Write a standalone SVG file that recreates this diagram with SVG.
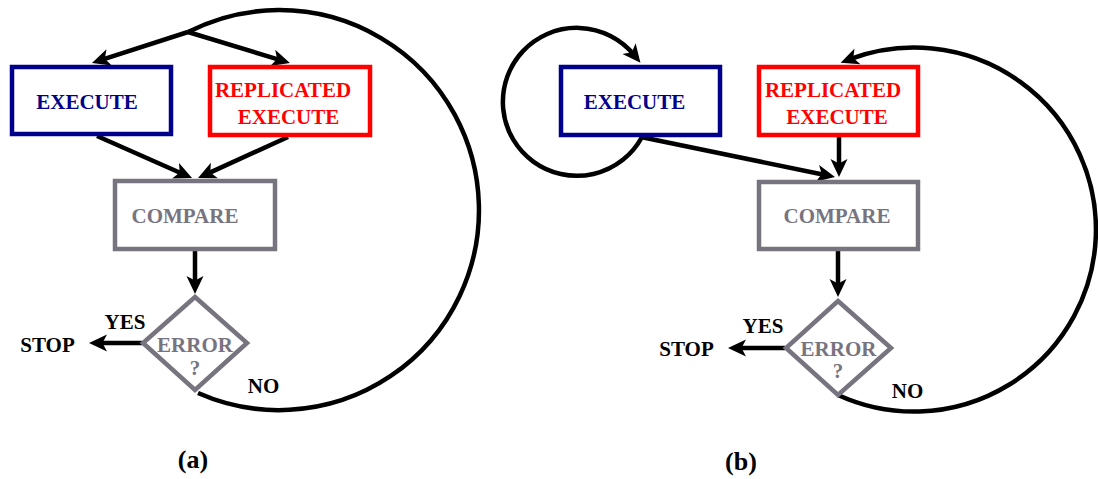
<svg xmlns="http://www.w3.org/2000/svg" width="1098" height="479" viewBox="0 0 1098 479">
  <style>
    .lbl { font-family: "Liberation Serif", "Times New Roman", serif; font-weight: bold; font-size: 21px; text-anchor: middle; }
    .cap { font-size: 26px; }
    .blue { fill: #00008B; }
    .red { fill: #FF0000; }
    .gray { fill: #78747F; }
    .blk { fill: #000000; }
    .box { fill: #FFFFFF; stroke-width: 4.5; }
    .b-blue { stroke: #00008B; }
    .b-red { stroke: #FF0000; }
    .b-gray { stroke: #78747F; }
    .edge { fill: none; stroke: #000000; stroke-width: 4.5; }
    .arrow { marker-end: url(#head); }
  </style>
  <defs>
    <!-- notched arrowhead; its tip sits 10px past the path end -->
    <marker id="head" viewBox="-9 -10 21 20" refX="0" refY="0" markerWidth="21" markerHeight="20" markerUnits="userSpaceOnUse" orient="auto">
      <path d="M10,0 L-8,-8.5 L-3.5,0 L-8,8.5 Z" fill="#000000"/>
    </marker>
  </defs>
  <rect width="1098" height="479" fill="#FFFFFF"/>

  <!-- connectors -->
  <g id="connectors">
    <!-- (a) -->
    <path class="edge" d="M198,393 A200,200 0 1 0 188,32"/>
    <path class="edge arrow" d="M188,32 L101.5,59.9"/>
    <path class="edge arrow" d="M188,32 L280.4,60.1"/>
    <path class="edge arrow" d="M97,136 L182.9,174"/>
    <path class="edge arrow" d="M288,137 L207.1,173.9"/>
    <path class="edge arrow" d="M195,251 L195,284"/>
    <path class="edge arrow" d="M142,343 L99,343"/>
    <!-- (b) -->
    <path class="edge arrow" d="M642,137 A74,74 0 1 1 634.1,54.9"/>
    <path class="edge arrow" d="M641,137 L825.2,175"/>
    <path class="edge arrow" d="M839,137 L839,167"/>
    <path class="edge arrow" d="M838,251 L838,287"/>
    <path class="edge arrow" d="M785,348 L738,348"/>
    <path class="edge arrow" d="M838,395 A182,182 0 1 0 850,59.2"/>
  </g>

  <!-- panel (a) -->
  <g id="a-execute">
    <rect class="box b-blue" x="12" y="67" width="159" height="67"/>
    <text class="lbl blue" x="87" y="109">EXECUTE</text>
  </g>
  <g id="a-replicated">
    <rect class="box b-red" x="210" y="67" width="160" height="68"/>
    <text class="lbl red" x="283" y="97">REPLICATED</text>
    <text class="lbl red" x="288.5" y="124">EXECUTE</text>
  </g>
  <g id="a-compare">
    <rect class="box b-gray" x="115" y="181" width="160" height="68"/>
    <text class="lbl gray" x="185" y="223">COMPARE</text>
  </g>
  <g id="a-error">
    <polygon class="box b-gray" points="195,297 247,343 195,390 143,343"/>
    <text class="lbl gray" x="195" y="352">ERROR</text>
    <text class="lbl gray" x="195" y="375">?</text>
  </g>
  <g id="a-labels">
    <text class="lbl blk" x="125" y="329">YES</text>
    <text class="lbl blk" x="47.5" y="352">STOP</text>
    <text class="lbl blk" x="263.5" y="393">NO</text>
    <text class="lbl blk cap" x="193" y="468">(a)</text>
  </g>

  <!-- panel (b) -->
  <g id="b-execute">
    <rect class="box b-blue" x="561" y="67" width="159" height="68"/>
    <text class="lbl blue" x="634.5" y="109">EXECUTE</text>
  </g>
  <g id="b-replicated">
    <rect class="box b-red" x="759" y="67" width="159" height="68"/>
    <text class="lbl red" x="833" y="97">REPLICATED</text>
    <text class="lbl red" x="837" y="124">EXECUTE</text>
  </g>
  <g id="b-compare">
    <rect class="box b-gray" x="759" y="182" width="159" height="67"/>
    <text class="lbl gray" x="837" y="223">COMPARE</text>
  </g>
  <g id="b-error">
    <polygon class="box b-gray" points="838,301 891,348 838,395 786,348"/>
    <text class="lbl gray" x="838.5" y="356">ERROR</text>
    <text class="lbl gray" x="838" y="378">?</text>
  </g>
  <g id="b-labels">
    <text class="lbl blk" x="763" y="333">YES</text>
    <text class="lbl blk" x="686.5" y="356">STOP</text>
    <text class="lbl blk" x="907.5" y="398">NO</text>
    <text class="lbl blk cap" x="741" y="470">(b)</text>
  </g>
</svg>
